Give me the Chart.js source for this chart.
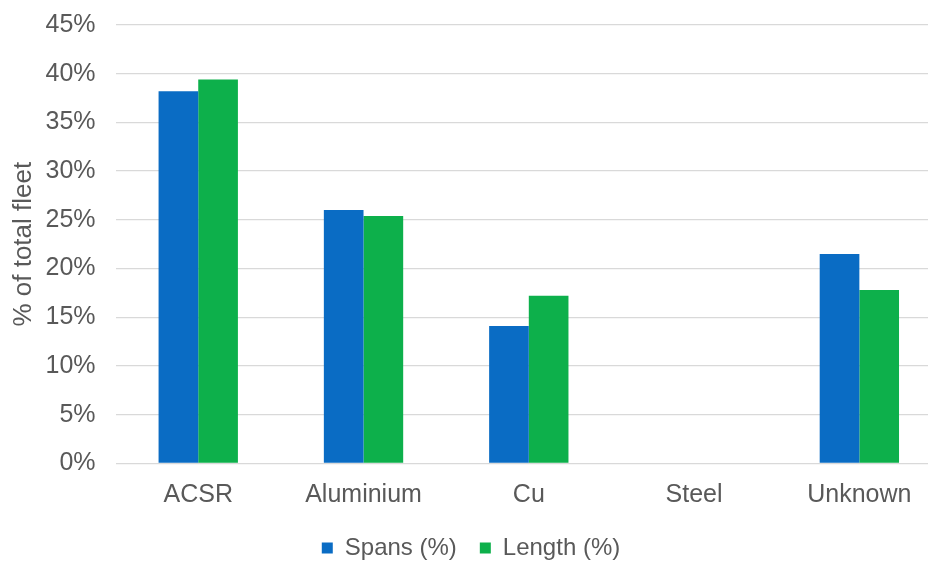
<!DOCTYPE html>
<html>
<head>
<meta charset="utf-8">
<script src="https://cdn.jsdelivr.net/npm/chart.js@4/dist/chart.umd.min.js"></script>
<style>
  html, body { margin: 0; padding: 0; background: #fff; overflow: hidden; }
  #wrap { width: 942px; height: 580px; position: relative; margin-top: -10px; }
</style>
</head>
<body>
<div id="wrap"><canvas id="c" width="942" height="580"></canvas></div>
<script>
// Conductor material share of the overhead fleet
const categories = ['ACSR', 'Aluminium', 'Cu', 'Steel', 'Unknown'];
const spansPct  = [38.2, 26.0, 14.1, 0, 21.5];
const lengthPct = [39.4, 25.4, 17.2, 0, 17.8];
const yTicks = [0, 5, 10, 15, 20, 25, 30, 35, 40, 45];

const FONT = "'Liberation Sans', Arial, sans-serif";
const TEXT = '#595959';

new Chart(document.getElementById('c'), {
  type: 'bar',
  data: {
    labels: categories,
    datasets: [
      { label: 'Spans (%)',  data: spansPct,  backgroundColor: '#0a6cc4' },
      { label: 'Length (%)', data: lengthPct, backgroundColor: '#0db04b' }
    ]
  },
  options: {
    responsive: false,
    animation: false,
    devicePixelRatio: 1,
    layout: { padding: { top: 7, right: 0, bottom: 0, left: 0 } },
    datasets: { bar: { categoryPercentage: 0.48, barPercentage: 1.0 } },
    scales: {
      x: {
        afterFit: s => { s.height = 49.6; },
        grid: { display: false, drawTicks: false },
        border: { display: false },
        ticks: { color: TEXT, font: { family: FONT, size: 25 }, padding: 17 }
      },
      y: {
        min: 0, max: 45,
        afterBuildTicks: s => { s.ticks = yTicks.map(v => ({ value: v })); },
        afterFit: s => { s.width = 115.6; },
        grid: { color: '#d9d9d9', lineWidth: 1.3, drawTicks: false },
        border: { display: false },
        ticks: {
          color: TEXT, font: { family: FONT, size: 25 }, padding: 20,
          callback: v => v + '%'
        },
        title: {
          display: true, text: '% of total fleet', color: TEXT,
          font: { family: FONT, size: 26 }, padding: { top: 8, bottom: 2 }
        }
      }
    },
    plugins: {
      legend: {
        position: 'bottom',
        labels: {
          color: TEXT, font: { family: FONT, size: 24 },
          boxWidth: 11, boxHeight: 11, padding: 23, useBorderRadius: false
        }
      },
      tooltip: { enabled: false }
    }
  }
});
</script>
</body>
</html>
